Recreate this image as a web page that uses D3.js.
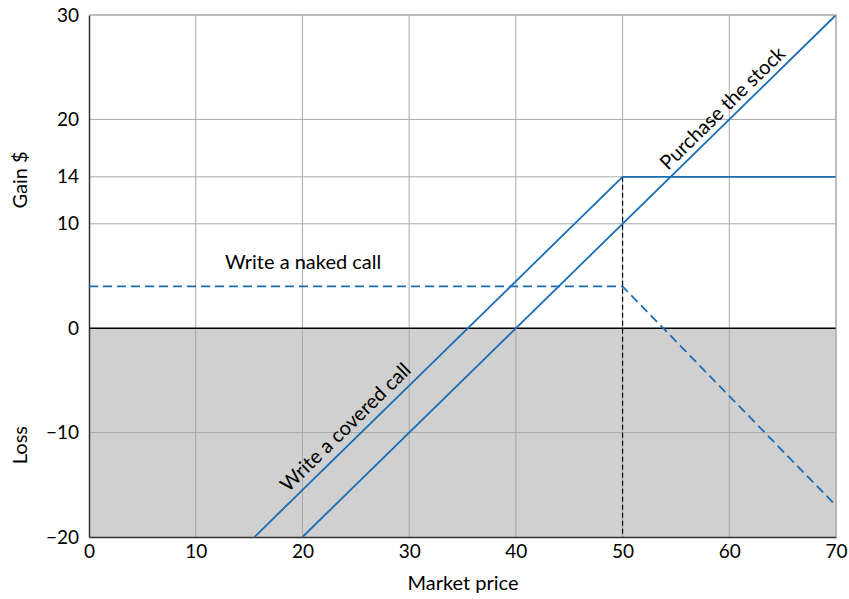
<!DOCTYPE html>
<html><head><meta charset="utf-8">
<script src="https://cdn.jsdelivr.net/npm/d3@7"></script>
<style>body{margin:0;background:#fff;} text{font-family:Lato, "Open Sans", sans-serif;}</style>
</head><body>
<svg id="chart" width="849" height="599"></svg>
<script>
const xTicks = [0,10,20,30,40,50,60,70];
const yTickValues = [-20,-10,0,10,14.5,20,30];
const yTickLabels = ["\u221220","\u221210","0","10","14","20","30"];
const stockLine = [[20,-20],[70,30]];
const coveredCall = [[15.5,-20],[50,14.5],[70,14.5]];
const nakedCall = [[0,4],[50,4],[70,-17]];
const strikeLine = [[50,14.5],[50,-20]];

const svg = d3.select("#chart");
const m = {l:89, r:13, t:15, b:62};
const W = 849, H = 599;
const x = d3.scaleLinear().domain([0,70]).range([m.l, W-m.r]);
const y = d3.scaleLinear().domain([-20,30]).range([H-m.b, m.t]);
const blue = "#1a6db5";

// loss shading
svg.append("rect").attr("x", x(0)).attr("y", y(0)).attr("width", x(70)-x(0)).attr("height", y(-20)-y(0)).attr("fill","#d0d0d0");

// grid
svg.append("g").selectAll("line").data(xTicks.filter(d=>d>0)).join("line")
  .attr("x1", d=>x(d)).attr("x2", d=>x(d)).attr("y1", y(30)).attr("y2", y(-20))
  .attr("stroke","#a8a8a8").attr("stroke-width",1);
svg.append("g").selectAll("line").data(yTickValues.filter(d=>d!==0 && d!==-20)).join("line")
  .attr("x1", x(0)).attr("x2", x(70)).attr("y1", d=>y(d)).attr("y2", d=>y(d))
  .attr("stroke","#a8a8a8").attr("stroke-width",1);

// zero line
svg.append("line").attr("x1",x(0)).attr("x2",x(70)).attr("y1",y(0)).attr("y2",y(0)).attr("stroke","#000").attr("stroke-width",1.5);

// axes
const xAxis = d3.axisBottom(x).tickValues(xTicks).tickSize(0).tickPadding(8);
const gx = svg.append("g").attr("transform",`translate(0,${y(-20)})`).call(xAxis);
gx.select(".domain").attr("stroke","#333").attr("stroke-width",1.5);
gx.selectAll("text").attr("font-size",19).attr("fill","#000");
const yAxis = d3.axisLeft(y).tickValues(yTickValues).tickSize(0).tickPadding(10)
  .tickFormat((d,i)=> yTickLabels[i]);
const gy = svg.append("g").attr("transform",`translate(${x(0)},0)`).call(yAxis);
gy.select(".domain").attr("stroke","#333").attr("stroke-width",1.5);
gy.selectAll("text").attr("font-size",19).attr("fill","#000");

const line = d3.line().x(d=>x(d[0])).y(d=>y(d[1]));
svg.append("path").datum(strikeLine).attr("d",line).attr("stroke","#000").attr("stroke-width",1.2).attr("stroke-dasharray","5,3").attr("fill","none");
svg.append("path").datum(stockLine).attr("d",line).attr("stroke",blue).attr("stroke-width",1.8).attr("fill","none");
svg.append("path").datum(coveredCall).attr("d",line).attr("stroke",blue).attr("stroke-width",1.8).attr("fill","none");
svg.append("path").datum(nakedCall).attr("d",line).attr("stroke",blue).attr("stroke-width",1.8).attr("stroke-dasharray","9,5").attr("fill","none");

const ang = -Math.atan((y(0)-y(1))/(x(1)-x(0)))*180/Math.PI;
// labels
svg.append("text").attr("x", x(20.06)).attr("y", y(5.65)).attr("text-anchor","middle").attr("font-size",20).text("Write a naked call");
svg.append("text").attr("transform",`translate(${x(60.2)},${y(20.2)}) rotate(${ang})`).attr("dy",-6).attr("text-anchor","middle").attr("font-size",20).text("Purchase the stock");
svg.append("text").attr("transform",`translate(${x(25)},${y(-10.5)}) rotate(${ang})`).attr("dy",-8).attr("text-anchor","middle").attr("font-size",20).text("Write a covered call");

svg.append("text").attr("transform",`translate(27,${y(14.2)}) rotate(-90)`).attr("text-anchor","middle").attr("font-size",20).text("Gain $");
svg.append("text").attr("transform",`translate(27,${y(-11.2)}) rotate(-90)`).attr("text-anchor","middle").attr("font-size",20).text("Loss");
svg.append("text").attr("x", 463).attr("y", 590).attr("text-anchor","middle").attr("font-size",20).text("Market price");
// top and right borders
svg.append("line").attr("x1",x(0)).attr("x2",x(70)).attr("y1",y(30)).attr("y2",y(30)).attr("stroke","#a8a8a8");
svg.append("line").attr("x1",x(70)).attr("x2",x(70)).attr("y1",y(30)).attr("y2",y(-20)).attr("stroke","#a8a8a8");
</script>
</body></html>
